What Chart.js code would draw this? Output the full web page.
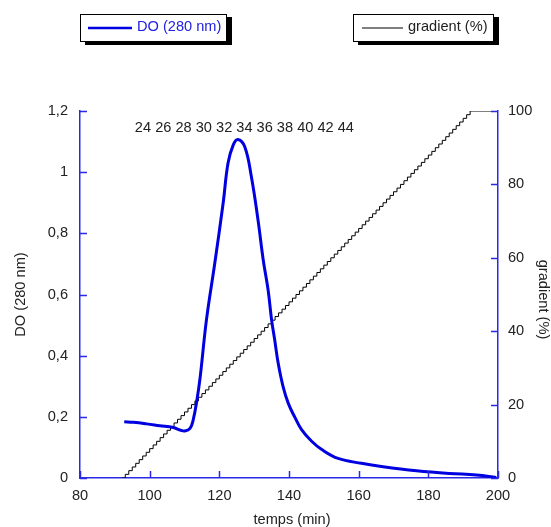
<!DOCTYPE html>
<html>
<head>
<meta charset="utf-8">
<script src="https://cdn.jsdelivr.net/npm/chart.js@4.4.1/dist/chart.umd.min.js"></script>
<style>
  body { margin: 0; background: #fff; }
  #wrap { width: 551px; height: 527px; position: relative; }
</style>
</head>
<body>
<div id="wrap"><canvas id="chart"></canvas></div>
<script>
// DO (280 nm)
const doTime = [92.7, 95.3, 99.1, 102.9, 106.8, 108.7, 110.1, 111.6, 112.5, 113.5, 114.5, 116.3, 118.7, 121.1, 122.5, 124.0, 125.3, 127.3, 129.2, 131.1, 132.6, 134.0, 135.0, 135.9, 136.9, 138.3, 139.8, 141.7, 143.6, 146.5, 149.3, 154.1, 160.8, 167.0, 176.6, 186.1, 193.8, 199.5];
const doValue = [0.184, 0.182, 0.177, 0.171, 0.165, 0.157, 0.154, 0.162, 0.19, 0.25, 0.33, 0.517, 0.703, 0.899, 1.03, 1.089, 1.107, 1.083, 0.985, 0.844, 0.713, 0.615, 0.517, 0.451, 0.375, 0.299, 0.244, 0.198, 0.158, 0.12, 0.094, 0.064, 0.048, 0.037, 0.024, 0.015, 0.010, 0.002];

// gradient (%) steps, one per minute
const gradTime = [92, 93, 94, 95, 96, 97, 98, 99, 100, 101, 102, 103, 104, 105, 106, 107, 108, 109, 110, 111,
  112, 113, 114, 115, 116, 117, 118, 119, 120, 121, 122, 123, 124, 125, 126, 127, 128, 129, 130, 131,
  132, 133, 134, 135, 136, 137, 138, 139, 140, 141, 142, 143, 144, 145, 146, 147, 148, 149, 150, 151,
  152, 153, 154, 155, 156, 157, 158, 159, 160, 161, 162, 163, 164, 165, 166, 167, 168, 169, 170, 171,
  172, 173, 174, 175, 176, 177, 178, 179, 180, 181, 182, 183, 184, 185, 186, 187, 188, 189, 190, 191,
  192, 200];
const gradPct = [0, 1, 2, 3, 4, 5, 6, 7, 8, 9, 10, 11, 12, 13, 14, 15, 16, 17, 18, 19,
  20, 21, 22, 23, 24, 25, 26, 27, 28, 29, 30, 31, 32, 33, 34, 35, 36, 37, 38, 39,
  40, 41, 42, 43, 44, 45, 46, 47, 48, 49, 50, 51, 52, 53, 54, 55, 56, 57, 58, 59,
  60, 61, 62, 63, 64, 65, 66, 67, 68, 69, 70, 71, 72, 73, 74, 75, 76, 77, 78, 79,
  80, 81, 82, 83, 84, 85, 86, 87, 88, 89, 90, 91, 92, 93, 94, 95, 96, 97, 98, 99,
  100, 100];

const fractionLabels = ['24', '26', '28', '30', '32', '34', '36', '38', '40', '42', '44'];
const fractionAt = { x: 127.2, y: 1.145 };

const xTicks = [80, 100, 120, 140, 160, 180, 200];
const yTicks = [0, 0.2, 0.4, 0.6, 0.8, 1, 1.2];
const y2Ticks = [0, 20, 40, 60, 80, 100];

const blue = '#0000e0';
const axisBlue = '#2a2ae6';
const textCol = '#222';
const fontFam = '"Liberation Sans", Arial, Helvetica, sans-serif';
const fontPx = 14.6;

Chart.defaults.font.family = fontFam;
Chart.defaults.font.size = fontPx;
Chart.defaults.color = textCol;

function fmtComma(v) {
    return String(Math.round(v * 10) / 10).replace('.', ',');
}

// ticks pointing into the plot, like the original
const innerTicks = {
    id: 'innerTicks',
    afterDraw(chart) {
        const ctx = chart.ctx;
        const { x, y, y2 } = chart.scales;
        const len = 7;
        ctx.save();
        ctx.strokeStyle = axisBlue;
        ctx.lineWidth = 1.5;
        ctx.beginPath();
        xTicks.forEach(v => {
            const px = Math.round(x.getPixelForValue(v)) + 0.5;
            ctx.moveTo(px, y.bottom);
            ctx.lineTo(px, y.bottom - len);
        });
        yTicks.forEach(v => {
            const py = Math.round(y.getPixelForValue(v)) + 0.5;
            ctx.moveTo(x.left, py);
            ctx.lineTo(x.left + len, py);
        });
        y2Ticks.forEach(v => {
            const py = Math.round(y2.getPixelForValue(v)) + 0.5;
            ctx.moveTo(x.right, py);
            ctx.lineTo(x.right - len, py);
        });
        ctx.stroke();
        ctx.restore();
    }
};

// axis titles, fraction numbers and the two boxed legends
const extras = {
    id: 'extras',
    afterDraw(chart) {
        const ctx = chart.ctx;
        const { x, y } = chart.scales;
        ctx.save();
        ctx.font = fontPx + 'px ' + fontFam;
        ctx.fillStyle = textCol;
        ctx.textBaseline = 'middle';
        ctx.textAlign = 'center';

        ctx.fillText('temps (min)', (x.left + x.right) / 2 + 3, 520);

        ctx.save();
        ctx.translate(21, (y.top + y.bottom) / 2);
        ctx.rotate(-Math.PI / 2);
        ctx.fillText('DO (280 nm)', 0, 0);
        ctx.restore();

        ctx.save();
        ctx.translate(543, (y.top + y.bottom) / 2 + 5);
        ctx.rotate(Math.PI / 2);
        ctx.fillText('gradient (%)', 0, 0);
        ctx.restore();

        ctx.fillText(fractionLabels.join(' '), x.getPixelForValue(fractionAt.x), y.getPixelForValue(fractionAt.y));

        function box(x0, x1, lineX0, lineX1, lineW, lineCol, label, labelCol) {
            const y0 = 14, y1 = 42;
            ctx.fillStyle = '#000';
            ctx.fillRect(x0 + 5, y0 + 3, x1 - x0, y1 - y0);
            ctx.fillStyle = '#fff';
            ctx.fillRect(x0, y0, x1 - x0, y1 - y0);
            ctx.strokeStyle = '#000';
            ctx.lineWidth = 1;
            ctx.strokeRect(x0 + 0.5, y0 + 0.5, x1 - x0 - 1, y1 - y0 - 1);
            ctx.strokeStyle = lineCol;
            ctx.lineWidth = lineW;
            ctx.beginPath();
            ctx.moveTo(lineX0, 28);
            ctx.lineTo(lineX1, 28);
            ctx.stroke();
            ctx.fillStyle = labelCol;
            ctx.textAlign = 'left';
            ctx.fillText(label, lineX1 + 5, 27);
        }
        box(80, 227, 88, 132, 2.5, blue, 'DO (280 nm)', '#2020e0');
        box(353, 494, 362, 403, 1, '#000', 'gradient (%)', textCol);
        ctx.restore();
    }
};

new Chart(document.getElementById('chart'), {
    type: 'line',
    data: {
        datasets: [
            {
                label: 'DO (280 nm)',
                data: doTime.map((t, i) => ({ x: t, y: doValue[i] })),
                borderColor: blue,
                borderWidth: 3,
                pointRadius: 0,
                tension: 0.4,
                yAxisID: 'y'
            },
            {
                label: 'gradient (%)',
                data: gradTime.map((t, i) => ({ x: t, y: gradPct[i] })),
                borderColor: '#000',
                borderWidth: 1,
                pointRadius: 0,
                stepped: true,
                yAxisID: 'y2'
            }
        ]
    },
    options: {
        responsive: true,
        maintainAspectRatio: false,
        animation: false,
        layout: { padding: { top: 111, left: 0, right: 0, bottom: 0 } },
        plugins: { legend: { display: false }, tooltip: { enabled: false } },
        scales: {
            x: {
                type: 'linear',
                position: 'bottom',
                min: 80, max: 200,
                afterBuildTicks: s => { s.ticks = xTicks.map(v => ({ value: v })); },
                afterFit: s => { s.height = 49; },
                ticks: { padding: 9, maxRotation: 0 },
                grid: { drawOnChartArea: false, drawTicks: false },
                border: { color: axisBlue, width: 1.5 }
            },
            y: {
                position: 'left',
                min: 0, max: 1.2,
                afterBuildTicks: s => { s.ticks = yTicks.map(v => ({ value: v })); },
                afterFit: s => { s.width = 80; },
                ticks: { padding: 12, callback: v => fmtComma(v) },
                grid: { drawOnChartArea: false, drawTicks: false },
                border: { color: axisBlue, width: 1.5 }
            },
            y2: {
                position: 'right',
                min: 0, max: 100,
                afterBuildTicks: s => { s.ticks = y2Ticks.map(v => ({ value: v })); },
                afterFit: s => { s.width = 53; },
                ticks: { padding: 10 },
                grid: { drawOnChartArea: false, drawTicks: false },
                border: { color: axisBlue, width: 1.5 }
            }
        }
    },
    plugins: [innerTicks, extras]
});
</script>
</body>
</html>
